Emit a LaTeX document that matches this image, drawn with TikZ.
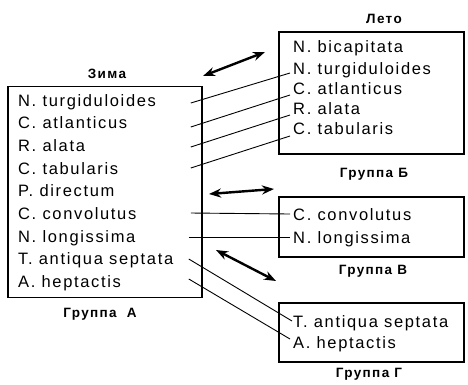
\documentclass[tikz,border=0pt]{standalone}
\usepackage{fontspec}
\setmainfont{Liberation Sans}[LetterSpace=10]
\newfontfamily\labelfont{Liberation Sans}[LetterSpace=10]
\usetikzlibrary{arrows.meta}

\begin{document}
\begin{tikzpicture}[x=1pt,y=-1pt,
	group/.style={draw,line width=1.6pt,inner sep=0pt},
	item/.style={anchor=base west,inner sep=0pt,font=\fontsize{16.5}{18}\selectfont},
	title/.style={anchor=base,inner sep=0pt,font=\labelfont\bfseries\fontsize{13.5}{15}\selectfont},
	link/.style={line width=0.9pt},
	swap/.style={line width=2.4pt,{Stealth[length=12pt,width=9pt]}-{Stealth[length=12pt,width=9pt]}}]
	\useasboundingbox (0,0) rectangle (468,384);

	% group A (winter)
	\node [group,minimum width=194pt,minimum height=211pt] at (105,192) (gA) {};
	\node [title] at (107,78) (tA) {Зима};
	\node [title] at (100,317) (nA) {Группа~~А};
	\node [item] at (18,106) (a1) {N. turgiduloides};
	\node [item] at (18,128.5) (a2) {C. atlanticus};
	\node [item] at (18,151) (a3) {R. alata};
	\node [item] at (18,174) (a4) {C. tabularis};
	\node [item] at (18,196.5) (a5) {P. directum};
	\node [item] at (18,219) (a6) {C. convolutus};
	\node [item] at (18,242) (a7) {N. longissima};
	\node [item] at (18,264.5) (a8) {T. antiqua septata};
	\node [item] at (18,287) (a9) {A. heptactis};

	% group B (summer)
	\node [group,minimum width=185pt,minimum height=122pt] at (371.5,93) (gB) {};
	\node [title] at (384,23) (tB) {Лето};
	\node [title] at (374,177) (nB) {Группа Б};
	\node [item] at (293,52) (b1) {N. bicapitata};
	\node [item] at (293,74) (b2) {N. turgiduloides};
	\node [item] at (293,94) (b3) {C. atlanticus};
	\node [item] at (293,114) (b4) {R. alata};
	\node [item] at (293,134) (b5) {C. tabularis};

	% group V
	\node [group,minimum width=185pt,minimum height=60pt] at (371.5,227) (gC) {};
	\node [title] at (373,274) (nC) {Группа В};
	\node [item] at (293,220) (c1) {C. convolutus};
	\node [item] at (293,243) (c2) {N. longissima};

	% group G
	\node [group,minimum width=185pt,minimum height=59pt] at (371.5,332.5) (gD) {};
	\node [title] at (369,377) (nD) {Группа Г};
	\node [item] at (293,327) (d1) {T. antiqua septata};
	\node [item] at (293,348) (d2) {A. heptactis};

	% species links
	\draw [link] ([xshift=-12pt,yshift=3pt]a1.base -| gA.east) -- ([xshift=-3pt,yshift=1pt]b2.base west);
	\draw [link] ([xshift=-12pt,yshift=1.5pt]a2.base -| gA.east) -- ([xshift=-3pt,yshift=-1pt]b3.base west);
	\draw [link] ([xshift=-12pt,yshift=4pt]a3.base -| gA.east) -- ([xshift=-3pt,yshift=-1pt]b4.base west);
	\draw [link] ([xshift=-12pt,yshift=6pt]a4.base -| gA.east) -- ([xshift=-3pt,yshift=-2pt]b5.base west);
	\draw [link] ([xshift=-12pt,yshift=6pt]a6.base -| gA.east) -- ([xshift=-3pt,yshift=6pt]c1.base west);
	\draw [link] ([xshift=-14pt,yshift=5pt]a7.base -| gA.east) -- ([xshift=-3pt,yshift=6pt]c2.base west);
	\draw [link] ([xshift=-14pt,yshift=5.5pt]a8.base -| gA.east) -- ([xshift=-1pt,yshift=6pt]d1.base west);
	\draw [link] ([xshift=-14pt,yshift=8pt]a9.base -| gA.east) -- ([xshift=-3pt,yshift=9pt]d2.base west);

	% migration arrows
	\coordinate (s1) at (203,76);
	\coordinate (e1) at (265,52);
	\coordinate (s2) at (209,194);
	\coordinate (e2) at (274,189);
	\coordinate (s3) at (216,250);
	\coordinate (e3) at (276,281);
	\draw [swap] (s1) -- (e1);
	\draw [swap] (s2) -- (e2);
	\draw [swap] (s3) -- (e3);
\end{tikzpicture}
\end{document}
